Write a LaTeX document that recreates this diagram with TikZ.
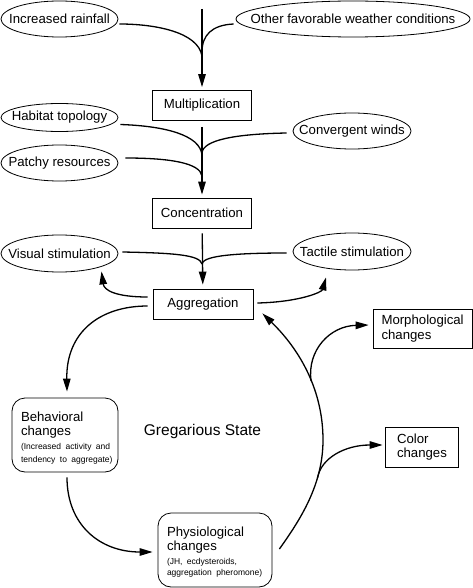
\documentclass[tikz,border=0pt]{standalone}
\usepackage{fontspec}
\setmainfont{Liberation Sans}
\usetikzlibrary{shapes.geometric,arrows.meta}
\newcommand{\smalltxt}[1]{\mbox{\fontsize{8.5}{10}\selectfont #1}}
\newcommand{\bigtxt}[1]{\mbox{#1}}
\tikzset{
  ell/.style={draw, ellipse, line width=0.8pt, inner xsep=-40pt, inner ysep=0pt, font=\fontsize{13.2}{15}\selectfont},
  box/.style={draw, rectangle, line width=0.8pt, inner sep=0pt, minimum width=99pt, minimum height=30pt, font=\fontsize{13.2}{15}\selectfont},
  tbox/.style={draw, rectangle, line width=0.8pt, align=left, inner ysep=0pt, font=\fontsize{13.2}{14.5}\selectfont},
  rbox/.style={tbox, rounded corners=13pt, font=\fontsize{13.2}{14}\selectfont},
  conn/.style={line width=1.3pt},
  arr/.style={conn, -{Triangle[length=13pt,width=7.5pt]}},
}
\begin{document}
\begin{tikzpicture}[x=1pt,y=-1pt]
\useasboundingbox (0,0) rectangle (473,588);
% ellipses
\node[ell, minimum width=117pt, minimum height=36pt] (ir) at (59.5,19) {Increased rainfall};
\node[ell, minimum width=234pt, minimum height=36pt] (ow) at (353,19) {Other favorable weather conditions};
\node[ell, minimum width=117pt, minimum height=28pt] (ht) at (59.5,117.5) {Habitat topology};
\node[ell, minimum width=117pt, minimum height=36pt] (pr) at (59.5,163) {Patchy resources};
\node[ell, minimum width=118pt, minimum height=36pt] (cw) at (352,131) {Convergent winds};
\node[ell, minimum width=117pt, minimum height=37pt] (vs) at (59.5,253.5) {Visual stimulation};
\node[ell, minimum width=118pt, minimum height=37pt] (ts) at (352,251.5) {Tactile stimulation};
% boxes
\node[box] (mult) at (202,105.5) {Multiplication};
\node[box] (conc) at (202,213) {Concentration};
\node[box, minimum width=100pt] (agg) at (203,304) {Aggregation};
\node[tbox, text width=82pt, inner xsep=8.5pt, minimum height=39pt] (morph) at (422.5,328.5) {\bigtxt{Morphological}\\\bigtxt{changes}};
\node[tbox, text width=49pt, inner xsep=12pt, minimum height=40pt] (color) at (421.5,447) {\bigtxt{Color}\\\bigtxt{changes}};
\node[rbox, text width=88pt, inner xsep=9pt, minimum height=74pt] (beh) at (65,435)
  {\rule{0pt}{15.5pt}\bigtxt{Behavioral}\\\bigtxt{changes}\\\smalltxt{(Increased activity and}\\[-1.7pt]\smalltxt{tendency to aggregate)}};
\node[rbox, text width=96pt, inner xsep=9pt, minimum height=74pt] (phys) at (215,550)
  {\rule{0pt}{14.5pt}\bigtxt{Physiological}\\\bigtxt{changes}\\[-0.5pt]\smalltxt{(JH, ecdysteroids,}\\[-2.5pt]\smalltxt{aggregation pheromone)}};
\node[font=\fontsize{15.5}{18}\selectfont] (greg) at (202.5,431) {Gregarious State};
% junction coordinates
\coordinate (top) at (202,9);
\coordinate (j1) at (202,56);
\coordinate (j2) at (202,52);
\coordinate (j3) at (202,155);
\coordinate (j4) at (202,153);
\coordinate (j5) at (202,176);
\coordinate (j6) at (202,264);
\coordinate (arcmid) at (323,440);
\coordinate (bm) at (311,381);
\coordinate (bc) at (317.5,478);
% main vertical flow
\draw[arr, shorten >=3pt] (top) -- (mult);
\draw[arr, shorten <=6pt, shorten >=3pt] (mult) -- (conc);
\draw[arr, shorten <=5pt, shorten >=4pt] (conc) -- (agg);
% merging curves
\draw[conn] ([shift={(1pt,-5pt)}]ir.east) .. controls (155,24) and (198,32) .. (j1);
\draw[conn] ([shift={(-2pt,-5pt)}]ow.west) .. controls (212,25) and (202,35) .. (j2);
\draw[conn] ([shift={(2pt,-7pt)}]ht.east) .. controls (165,126) and (200,135) .. (j3);
\draw[conn] ([shift={(-6pt,-2pt)}]cw.west) .. controls (235,134) and (203,140) .. (j4);
\draw[conn] ([shift={(7pt,5pt)}]pr.east) .. controls (170,158) and (200,163) .. (j5);
\draw[conn] ([shift={(4pt,1.5pt)}]vs.east) .. controls (175,253) and (200,255) .. (j6);
\draw[conn] ([shift={(-6pt,-1.5pt)}]ts.west) .. controls (225,253) and (203,257) .. (j6);
% aggregation feedback arrows
\draw[arr] ([shift={(-5pt,7pt)}]agg.west) .. controls (115,297) and (104,290) .. ([shift={(42pt,1pt)}]vs.south);
\draw[arr] ([shift={(4pt,1pt)}]agg.east) .. controls (300,302) and (322,292) .. ([shift={(-26pt,-7pt)}]ts.south);
% cycle
\draw[arr] ([shift={(-5pt,-2pt)}]agg.west) .. controls (100,306) and (66,332) .. ([shift={(2pt,6pt)}]beh.north);
\draw[arr] ([shift={(2pt,-5pt)}]beh.south) .. controls (67,525) and (100,552) .. ([shift={(-5pt,-2pt)}]phys.west);
\draw[arr] ([shift={(7pt,1pt)}]phys.east) .. controls (300,520) and (323,485) .. (arcmid)
  .. controls (323,385) and (295,345) .. ([shift={(9pt,6pt)}]agg.south east);
\draw[arr] (bm) .. controls (307,350) and (330,326) .. ([shift={(-4pt,3.5pt)}]morph.west);
\draw[arr] (bc) .. controls (321,458) and (345,445) .. ([shift={(-2pt,2pt)}]color.west);
\end{tikzpicture}
\end{document}
